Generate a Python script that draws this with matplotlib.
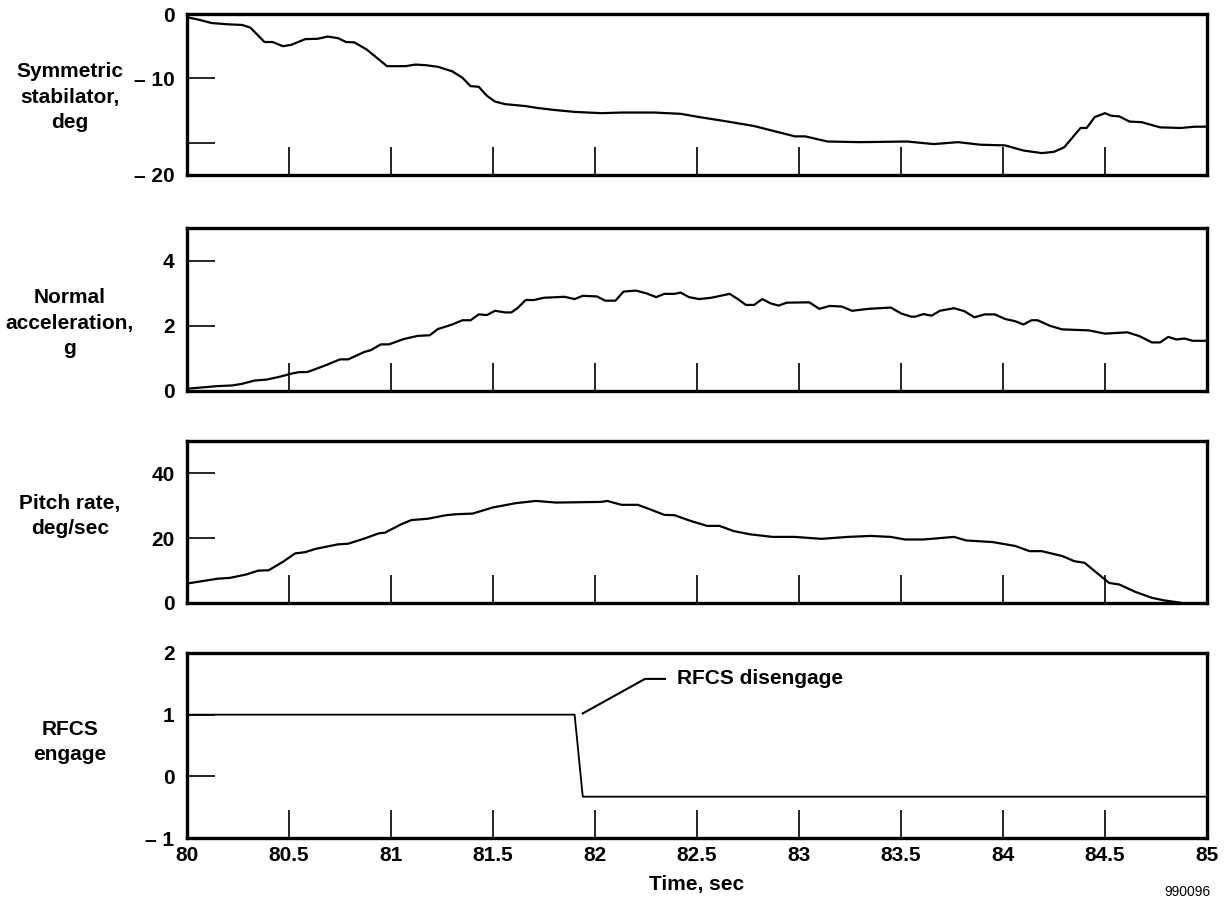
import numpy as np
import matplotlib.pyplot as plt

plt.rcParams['font.family'] = ['Liberation Sans', 'DejaVu Sans']
plt.rcParams['font.weight'] = 'bold'

# symmetric stabilator, deg
stab_t = [80.0, 80.06, 80.12, 80.20, 80.27, 80.31, 80.38, 80.42, 80.47, 80.51,
          80.58, 80.64, 80.69, 80.74, 80.78, 80.82, 80.88, 80.95, 80.98, 81.07,
          81.12, 81.17, 81.23, 81.30, 81.35, 81.39, 81.43, 81.47, 81.51, 81.56,
          81.66, 81.72, 81.80, 81.90, 82.03, 82.13, 82.29, 82.42, 82.51, 82.57,
          82.65, 82.78, 82.88, 82.98, 83.03, 83.14, 83.30, 83.53, 83.66, 83.78,
          83.89, 84.01, 84.10, 84.19, 84.25, 84.30, 84.38, 84.41, 84.45, 84.50,
          84.53, 84.57, 84.62, 84.68, 84.77, 84.87, 84.94, 85.0]
stab_deg = [-0.5, -0.9, -1.4, -1.6, -1.7, -2.1, -4.35, -4.35, -5.0, -4.8,
            -3.9, -3.85, -3.5, -3.75, -4.35, -4.4, -5.5, -7.3, -8.1, -8.1,
            -7.85, -7.95, -8.2, -8.9, -9.9, -11.2, -11.3, -12.7, -13.6, -14.0,
            -14.3, -14.6, -14.9, -15.2, -15.4, -15.3, -15.3, -15.5, -16.0, -16.3,
            -16.7, -17.4, -18.2, -19.0, -19.0, -19.8, -19.9, -19.8, -20.2, -19.9,
            -20.3, -20.4, -21.2, -21.6, -21.4, -20.7, -17.7, -17.7, -16.0, -15.4,
            -15.8, -15.9, -16.7, -16.8, -17.6, -17.7, -17.5, -17.5]

# normal acceleration, g
nz_t = [80.0, 80.15, 80.22, 80.27, 80.33, 80.39, 80.45, 80.51, 80.55, 80.59,
        80.68, 80.75, 80.79, 80.87, 80.90, 80.95, 80.99, 81.06, 81.13, 81.19,
        81.23, 81.30, 81.35, 81.39, 81.43, 81.47, 81.51, 81.56, 81.59, 81.62,
        81.66, 81.70, 81.75, 81.85, 81.90, 81.94, 82.01, 82.05, 82.10, 82.14,
        82.20, 82.25, 82.30, 82.34, 82.39, 82.42, 82.46, 82.51, 82.57, 82.66,
        82.70, 82.74, 82.78, 82.82, 82.86, 82.90, 82.94, 83.05, 83.10, 83.15,
        83.21, 83.26, 83.34, 83.45, 83.50, 83.55, 83.57, 83.61, 83.65, 83.69,
        83.76, 83.81, 83.86, 83.91, 83.96, 84.01, 84.06, 84.10, 84.14, 84.17,
        84.23, 84.29, 84.42, 84.50, 84.61, 84.67, 84.73, 84.77, 84.81, 84.85,
        84.89, 84.93, 85.0]
nz_g = [0.07, 0.15, 0.17, 0.22, 0.32, 0.35, 0.43, 0.53, 0.58, 0.58,
        0.79, 0.97, 0.97, 1.20, 1.25, 1.43, 1.43, 1.59, 1.69, 1.71,
        1.90, 2.04, 2.17, 2.17, 2.35, 2.33, 2.46, 2.41, 2.41, 2.54,
        2.79, 2.79, 2.86, 2.89, 2.82, 2.92, 2.90, 2.77, 2.77, 3.05,
        3.08, 3.00, 2.88, 2.98, 2.98, 3.02, 2.88, 2.82, 2.86, 2.98,
        2.82, 2.64, 2.64, 2.82, 2.69, 2.62, 2.71, 2.72, 2.52, 2.61,
        2.59, 2.46, 2.52, 2.56, 2.38, 2.28, 2.28, 2.36, 2.31, 2.46,
        2.54, 2.45, 2.26, 2.35, 2.35, 2.21, 2.14, 2.04, 2.17, 2.17,
        2.00, 1.89, 1.86, 1.76, 1.80, 1.68, 1.49, 1.49, 1.66, 1.58,
        1.61, 1.54, 1.54]

# pitch rate, deg/sec
q_t = [80.0, 80.15, 80.21, 80.29, 80.35, 80.40, 80.47, 80.53, 80.58, 80.63,
       80.74, 80.79, 80.87, 80.94, 80.97, 81.05, 81.10, 81.18, 81.27, 81.32,
       81.40, 81.50, 81.56, 81.61, 81.71, 81.81, 82.03, 82.06, 82.13, 82.21,
       82.27, 82.34, 82.39, 82.47, 82.55, 82.61, 82.68, 82.76, 82.87, 82.98,
       83.11, 83.24, 83.35, 83.45, 83.52, 83.61, 83.76, 83.82, 83.95, 84.06,
       84.13, 84.19, 84.29, 84.35, 84.40, 84.46, 84.52, 84.57, 84.65, 84.73,
       84.79, 84.87]
q_dps = [6.0, 7.5, 7.75, 8.8, 10.0, 10.1, 12.7, 15.3, 15.7, 16.7,
         18.1, 18.3, 19.9, 21.5, 21.7, 24.3, 25.6, 26.0, 27.1, 27.4,
         27.6, 29.5, 30.2, 30.8, 31.5, 31.0, 31.2, 31.5, 30.3, 30.3,
         28.9, 27.2, 27.1, 25.3, 23.8, 23.8, 22.2, 21.2, 20.4, 20.4,
         19.8, 20.4, 20.7, 20.4, 19.6, 19.6, 20.4, 19.3, 18.8, 17.6,
         16.0, 16.0, 14.5, 12.9, 12.4, 9.3, 6.2, 5.7, 3.4, 1.6,
         0.8, 0.1]

# RFCS engage discrete
rfcs_t = [80.0, 81.90, 81.94, 85.0]
rfcs_state = [1, 1, -0.33, -0.33]

x_ticks = np.arange(80, 85.01, 0.5)
x_labels = ['80', '80.5', '81', '81.5', '82', '82.5', '83', '83.5', '84', '84.5', '85']

W, H = 1225, 899
fig = plt.figure(figsize=(W / 100, H / 100), dpi=100)
left, right = 187, 1207
boxes = [(14, 175), (228, 391), (441, 603), (653, 838)]
axes = []
for top, bot in boxes:
    ax = fig.add_axes([left / W, 1 - bot / H, (right - left) / W, (bot - top) / H])
    axes.append(ax)

ax1, ax2, ax3, ax4 = axes

ax1.plot(stab_t, stab_deg, color='black', lw=1.6)
ax1.set_ylim(-25, 0)
ax1.set_yticks([0, -10, -20, -25])
ax1.set_yticklabels(['0', '\u2013 10', '', '\u2013 20'])

ax2.plot(nz_t, nz_g, color='black', lw=1.6)
ax2.set_ylim(0, 5)
ax2.set_yticks([0, 2, 4])
ax2.set_yticklabels(['0', '2', '4'])

ax3.plot(q_t, q_dps, color='black', lw=1.6)
ax3.set_ylim(0, 50)
ax3.set_yticks([0, 20, 40])
ax3.set_yticklabels(['0', '20', '40'])

ax4.plot(rfcs_t, rfcs_state, color='black', lw=1.3)
ax4.set_ylim(-1, 2)
ax4.set_yticks([-1, 0, 1, 2])
ax4.set_yticklabels(['\u2013 1', '0', '1', '2'])

fs = 15
for ax in axes:
    ax.set_xlim(80, 85)
    ax.set_xticks(x_ticks)
    ax.tick_params(direction='in', length=20, width=1.2, labelsize=fs, pad=9,
                   top=False, right=False)
    for s in ax.spines.values():
        s.set_linewidth(2.4)
    if ax is not ax4:
        ax.tick_params(labelbottom=False)

ax4.set_xticklabels(x_labels)
ax4.tick_params(axis='x', pad=6)
ax4.set_xlabel('Time, sec', fontsize=fs, fontweight='bold', labelpad=7)

# annotation for disengage
lead_x = [81.94, 82.245, 82.343]
lead_y = [1.02, 1.58, 1.58]
ax4.plot(lead_x, lead_y, color='black', lw=1.5)
ax4.text(82.40, 1.58, 'RFCS disengage', fontsize=fs, fontweight='bold',
         va='center', ha='left')

ylabels = ['Symmetric\nstabilator,\ndeg', 'Normal\nacceleration,\ng',
           'Pitch rate,\ndeg/sec', 'RFCS\nengage']
ylab_y = [97, 323, 516, 742]
for txt, yy in zip(ylabels, ylab_y):
    fig.text(70 / W, 1 - yy / H, txt, ha='center', va='center', fontsize=fs,
             fontweight='bold', linespacing=1.42)

fig.text(1187 / W, 1 - 892 / H, '990096', ha='center', va='center',
         fontsize=10, fontweight='normal')

fig.savefig('out.png', dpi=100)
